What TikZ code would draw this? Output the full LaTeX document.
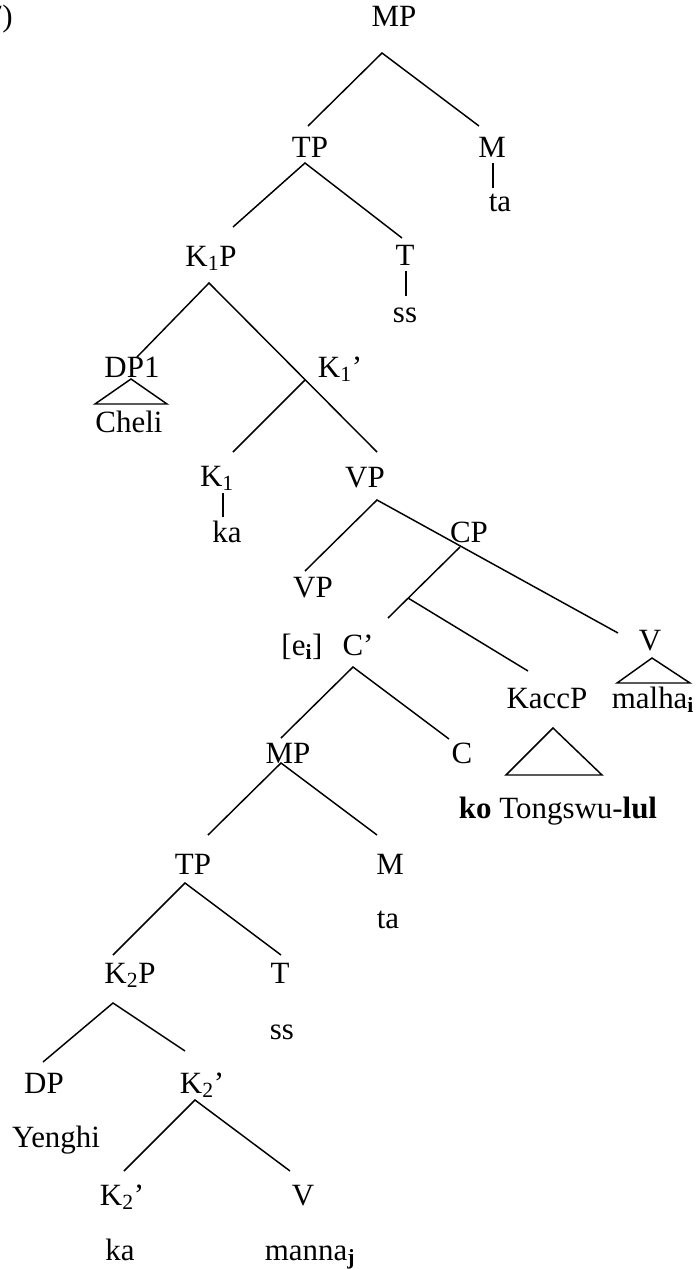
\documentclass[tikz,border=0pt]{standalone}
\usepackage{fontspec}
\setmainfont{Liberation Serif}
\begin{document}
\begin{tikzpicture}[x=0.75pt,y=-0.75pt,
  lbl/.style={anchor=base, inner sep=0pt, font=\fontsize{23.2}{27}\selectfont},
  edge/.style={line width=1.1pt}]
\useasboundingbox (0,0) rectangle (696,1270);
% labels
\node[lbl, anchor=base east] (ex) at (13,27) {(7)};
\node[lbl] (MP0) at (394,27) {MP};
\node[lbl] (M0) at (492,157) {M};
\node[lbl] (ta0) at (500,211) {ta};
\node[lbl] (TP0) at (310,157) {TP};
\node[lbl] (T0) at (405,265) {T};
\node[lbl] (ss0) at (405,322) {ss};
\node[lbl] (K1P) at (211,266) {K\textsubscript{1}P};
\node[lbl] (DP1) at (132,377) {DP1};
\node[lbl] (Cheli) at (129,432) {Cheli};
\node[lbl] (K1b) at (340,377) {K\textsubscript{1}’};
\node[lbl] (K1) at (217,486) {K\textsubscript{1}};
\node[lbl] (ka0) at (227,542) {ka};
\node[lbl] (VP) at (365,487) {VP};
\node[lbl] (CP) at (469,542) {CP};
\node[lbl] (VPe) at (313,597) {VP};
\node[lbl] (ei) at (302,655) {[e\textsubscript{\textbf{i}}]};
\node[lbl] (Cb) at (358,655) {C’};
\node[lbl] (V0) at (650,650) {V};
\node[lbl] (KaccP) at (547,708) {KaccP};
\node[lbl] (malha) at (653,708) {malha\textsubscript{\textbf{i}}};
\node[lbl] (C0) at (462,763) {C};
\node[lbl] (kotong) at (558,818) {\textbf{ko} Tongswu-\textbf{lul}};
\node[lbl] (MP1) at (288,763) {MP};
\node[lbl] (TP1) at (193,874) {TP};
\node[lbl] (M1) at (390,874) {M};
\node[lbl] (ta1) at (388,928) {ta};
\node[lbl] (K2P) at (130,983) {K\textsubscript{2}P};
\node[lbl] (T1) at (280,983) {T};
\node[lbl] (ss1) at (282,1039) {ss};
\node[lbl] (DP) at (44,1093) {DP};
\node[lbl] (K2b) at (202,1093) {K\textsubscript{2}’};
\node[lbl] (Yenghi) at (56,1147) {Yenghi};
\node[lbl] (K2c) at (122,1205) {K\textsubscript{2}’};
\node[lbl] (V1) at (303,1205) {V};
\node[lbl] (ka1) at (120,1260) {ka};
\node[lbl] (manna) at (310,1260) {manna\textsubscript{\textbf{j}}};
% attachment points
\coordinate (MP0-b) at (382,53);
\coordinate (TP0-t) at (308,126);
\coordinate (M0-t) at (479,126);
\coordinate (M0-b) at (493,163);
\coordinate (ta0-t) at (493,188);
\coordinate (TP0-b) at (305,163);
\coordinate (K1P-t) at (233,227);
\coordinate (T0-t) at (402,238);
\coordinate (T0-b) at (406,271);
\coordinate (ss0-t) at (406,296);
\coordinate (K1P-b) at (209,283);
\coordinate (DP1-t) at (137,357);
\coordinate (VP-t) at (377,452);
\coordinate (K1b-b) at (305,380);
\coordinate (K1-t) at (233,452);
\coordinate (DP1-b) at (131,379);
\coordinate (Cheli-l) at (95,404);
\coordinate (Cheli-r) at (167,404);
\coordinate (K1-b) at (223,493);
\coordinate (ka0-t) at (223,517);
\coordinate (VP-b) at (377,500);
\coordinate (VPe-t) at (305,571);
\coordinate (V0-t) at (618,633);
\coordinate (CP-b) at (460,547);
\coordinate (Cb-t) at (388,618);
\coordinate (Cb-j) at (408,598);
\coordinate (KaccP-t) at (528,671);
\coordinate (V0-b) at (652,658);
\coordinate (malha-l) at (617,683);
\coordinate (malha-r) at (690,683);
\coordinate (Cb-b) at (353,667);
\coordinate (MP1-t) at (281,738);
\coordinate (C0-t) at (449,739);
\coordinate (KaccP-b) at (553,728);
\coordinate (kotong-l) at (506,775);
\coordinate (kotong-r) at (602,775);
\coordinate (MP1-b) at (281,763);
\coordinate (TP1-t) at (208,835);
\coordinate (M1-t) at (377,835);
\coordinate (TP1-b) at (185,883);
\coordinate (K2P-t) at (113,955);
\coordinate (T1-t) at (281,955);
\coordinate (K2P-b) at (113,1003);
\coordinate (DP-t) at (43,1062);
\coordinate (K2b-t) at (185,1051);
\coordinate (K2b-b) at (195,1100);
\coordinate (K2c-t) at (124,1171);
\coordinate (V1-t) at (290,1171);
% edges
\draw[edge] (TP0-t) -- (MP0-b) -- (M0-t);
\draw[edge] (M0-b) -- (ta0-t);
\draw[edge] (K1P-t) -- (TP0-b) -- (T0-t);
\draw[edge] (T0-b) -- (ss0-t);
\draw[edge] (DP1-t) -- (K1P-b) -- (VP-t);
\draw[edge] (K1b-b) -- (K1-t);
\draw[edge] (Cheli-l) -- (DP1-b) -- (Cheli-r) -- cycle;
\draw[edge] (K1-b) -- (ka0-t);
\draw[edge] (VPe-t) -- (VP-b) -- (V0-t);
\draw[edge] (CP-b) -- (Cb-t);
\draw[edge] (Cb-j) -- (KaccP-t);
\draw[edge] (malha-l) -- (V0-b) -- (malha-r) -- cycle;
\draw[edge] (MP1-t) -- (Cb-b) -- (C0-t);
\draw[edge] (kotong-l) -- (KaccP-b) -- (kotong-r) -- cycle;
\draw[edge] (TP1-t) -- (MP1-b) -- (M1-t);
\draw[edge] (K2P-t) -- (TP1-b) -- (T1-t);
\draw[edge] (DP-t) -- (K2P-b) -- (K2b-t);
\draw[edge] (K2c-t) -- (K2b-b) -- (V1-t);
\end{tikzpicture}
\end{document}
